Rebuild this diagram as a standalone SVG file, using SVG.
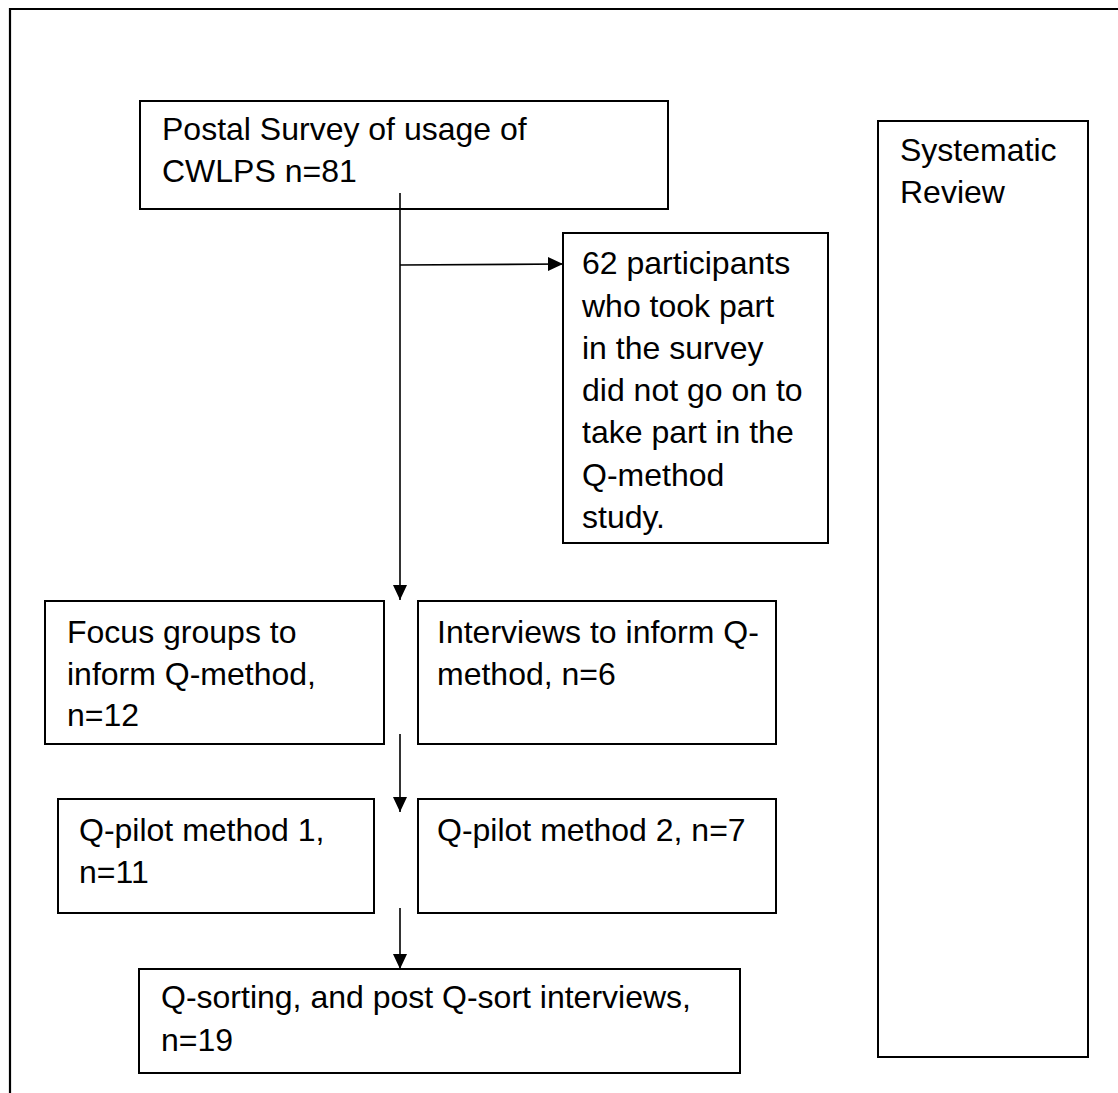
<svg xmlns="http://www.w3.org/2000/svg" width="1118" height="1093" viewBox="0 0 1118 1093">
<style>
.box{fill:#fff;stroke:#000;stroke-width:2}
.t{font-family:"Liberation Sans",Arial,Helvetica,sans-serif;font-size:32px;fill:#000}
.c{stroke:#000;stroke-width:1.6;fill:none}
</style>
<defs>
<marker id="ah" markerUnits="userSpaceOnUse" markerWidth="16" markerHeight="16" viewBox="0 0 16 16" refX="15" refY="8" orient="auto">
<path d="M0,1 L15,8 L0,15 Z" fill="#000"/>
</marker>
</defs>
<rect width="1118" height="1093" fill="#fff"/>
<g id="frame"><path d="M10,1093 V9 H1118" fill="none" stroke="#000" stroke-width="2.2"/></g>
<g id="n-postal"><rect class="box" x="140" y="101" width="528" height="108"/>
<text class="t" x="162" y="140">Postal Survey of usage of</text>
<text class="t" x="162" y="182">CWLPS n=81</text></g>
<g id="n-62"><rect class="box" x="563" y="233" width="265" height="310"/>
<text class="t" x="582" y="274">62 participants</text>
<text class="t" x="582" y="317">who took part</text>
<text class="t" x="582" y="359">in the survey</text>
<text class="t" x="582" y="401">did not go on to</text>
<text class="t" x="582" y="443">take part in the</text>
<text class="t" x="582" y="486">Q-method</text>
<text class="t" x="582" y="528">study.</text></g>
<g id="n-sysrev"><rect class="box" x="878" y="121" width="210" height="936"/>
<text class="t" x="900" y="161">Systematic</text>
<text class="t" x="900" y="203">Review</text></g>
<g id="n-focus"><rect class="box" x="45" y="601" width="339" height="143"/>
<text class="t" x="67" y="643">Focus groups to</text>
<text class="t" x="67" y="685">inform Q-method,</text>
<text class="t" x="67" y="726">n=12</text></g>
<g id="n-interviews"><rect class="box" x="418" y="601" width="358" height="143"/>
<text class="t" x="437" y="643">Interviews to inform Q-</text>
<text class="t" x="437" y="685">method, n=6</text></g>
<g id="n-pilot1"><rect class="box" x="58" y="799" width="316" height="114"/>
<text class="t" x="79" y="841">Q-pilot method 1,</text>
<text class="t" x="79" y="883">n=11</text></g>
<g id="n-pilot2"><rect class="box" x="418" y="799" width="358" height="114"/>
<text class="t" x="437" y="841">Q-pilot method 2, n=7</text></g>
<g id="n-qsort"><rect class="box" x="139" y="969" width="601" height="104"/>
<text class="t" x="161" y="1008">Q-sorting, and post Q-sort interviews,</text>
<text class="t" x="161" y="1051">n=19</text></g>
<g id="connectors">
<line class="c" x1="400" y1="193" x2="400" y2="600" marker-end="url(#ah)"/>
<line class="c" x1="400" y1="265" x2="563" y2="264" marker-end="url(#ah)"/>
<line class="c" x1="400" y1="734" x2="400" y2="812" marker-end="url(#ah)"/>
<line class="c" x1="400" y1="908" x2="400" y2="969" marker-end="url(#ah)"/>
</g>
</svg>
